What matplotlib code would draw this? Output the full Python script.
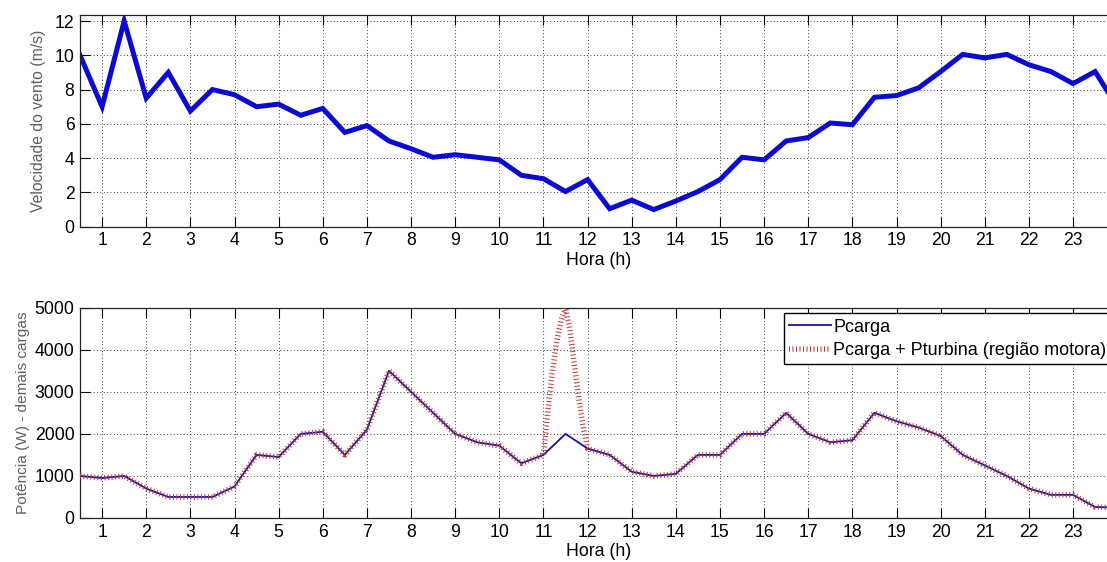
import numpy as np
import matplotlib.pyplot as plt

plt.rcParams['font.family'] = ['Liberation Sans', 'DejaVu Sans']

# dados (meia em meia hora)
horas = np.arange(0.5, 24.01, 0.5)
vento = [10, 7, 12, 7.5, 9, 6.75, 8, 7.7, 7, 7.15, 6.5, 6.9,
         5.5, 5.9, 5.0, 4.55, 4.05, 4.2, 4.05, 3.9, 3.0, 2.8, 2.05, 2.75,
         1.05, 1.55, 1.0, 1.5, 2.05, 2.75, 4.05, 3.9, 5.0, 5.2, 6.05, 5.95,
         7.55, 7.65, 8.1, 9.05, 10.05, 9.85, 10.05, 9.45, 9.05, 8.35, 9.05, 7.0]
carga = [1000, 950, 1000, 700, 500, 500, 500, 750, 1500, 1450, 2000, 2050,
         1500, 2100, 3500, 3000, 2500, 2000, 1800, 1720, 1300, 1500, 2000, 1650,
         1500, 1100, 1000, 1050, 1500, 1500, 2000, 2000, 2500, 2000, 1800, 1850,
         2500, 2300, 2150, 1950, 1500, 1250, 1000, 700, 550, 550, 260, 250]
# regiao motora: pico entre 11h e 12h
pico_horas = [11.1, 11.2, 11.3, 11.4, 11.5, 11.6, 11.7, 11.8, 11.9]
pico_valores = [2550, 3450, 4200, 4700, 5000, 4470, 3650, 2850, 2170]

ticks_x = list(range(1, 24))

# serie carga + turbina
pares = {h: v for h, v in zip(horas, carga)}
for h, v in zip(pico_horas, pico_valores):
    pares[h] = v
h_tot = sorted(pares)
p_tot = [pares[h] for h in h_tot]

fig = plt.figure(figsize=(11.07, 5.62), dpi=100)
ax1 = fig.add_axes([0.0723, 0.5966, 0.9369, 0.3767])
ax2 = fig.add_axes([0.0723, 0.0783, 0.9369, 0.3742])

ax1.plot(horas, vento, color='#0a0ad2', lw=3.6, solid_joinstyle='miter')
ax1.set_xlim(0.5, 24)
ax1.set_ylim(0, 12.35)
ax1.set_yticks(range(0, 13, 2))
ax1.set_ylabel('Velocidade do vento (m/s)', fontsize=11.3, color='#606060', labelpad=6)

ax2.plot(horas, carga, color='#1414a0', lw=1.3, label='Pcarga', zorder=3)
ax2.plot(h_tot, p_tot, color='#c23a3a', lw=4, linestyle=(0, (0.18, 0.45)),
         dash_capstyle='butt', label='Pcarga + Pturbina (região motora)', zorder=4)
ax2.set_xlim(0.5, 24)
ax2.set_ylim(0, 5000)
ax2.set_yticks(range(0, 5001, 1000))
ax2.set_ylabel('Potência (W) - demais cargas', fontsize=11.1, color='#606060', labelpad=3)
leg = ax2.legend(loc='upper right', fontsize=13, handlelength=2.3, handletextpad=0.15,
                 borderaxespad=0.3, fancybox=False, framealpha=1, labelspacing=0.35,
                 borderpad=0.3)
leg.get_frame().set_edgecolor('k')
leg.get_frame().set_linewidth(1)

for ax in (ax1, ax2):
    ax.set_xticks(ticks_x)
    ax.set_xlabel('Hora (h)', fontsize=12.7, labelpad=2)
    ax.grid(True, linestyle=(0, (1, 3)), color='k', lw=0.6)
    ax.tick_params(direction='in', length=7, width=0.8, labelsize=12.7,
                   top=True, right=True, pad=4)
    for s in ax.spines.values():
        s.set_color('#222222')
        s.set_linewidth(0.9)

plt.savefig('out.png', dpi=100)
